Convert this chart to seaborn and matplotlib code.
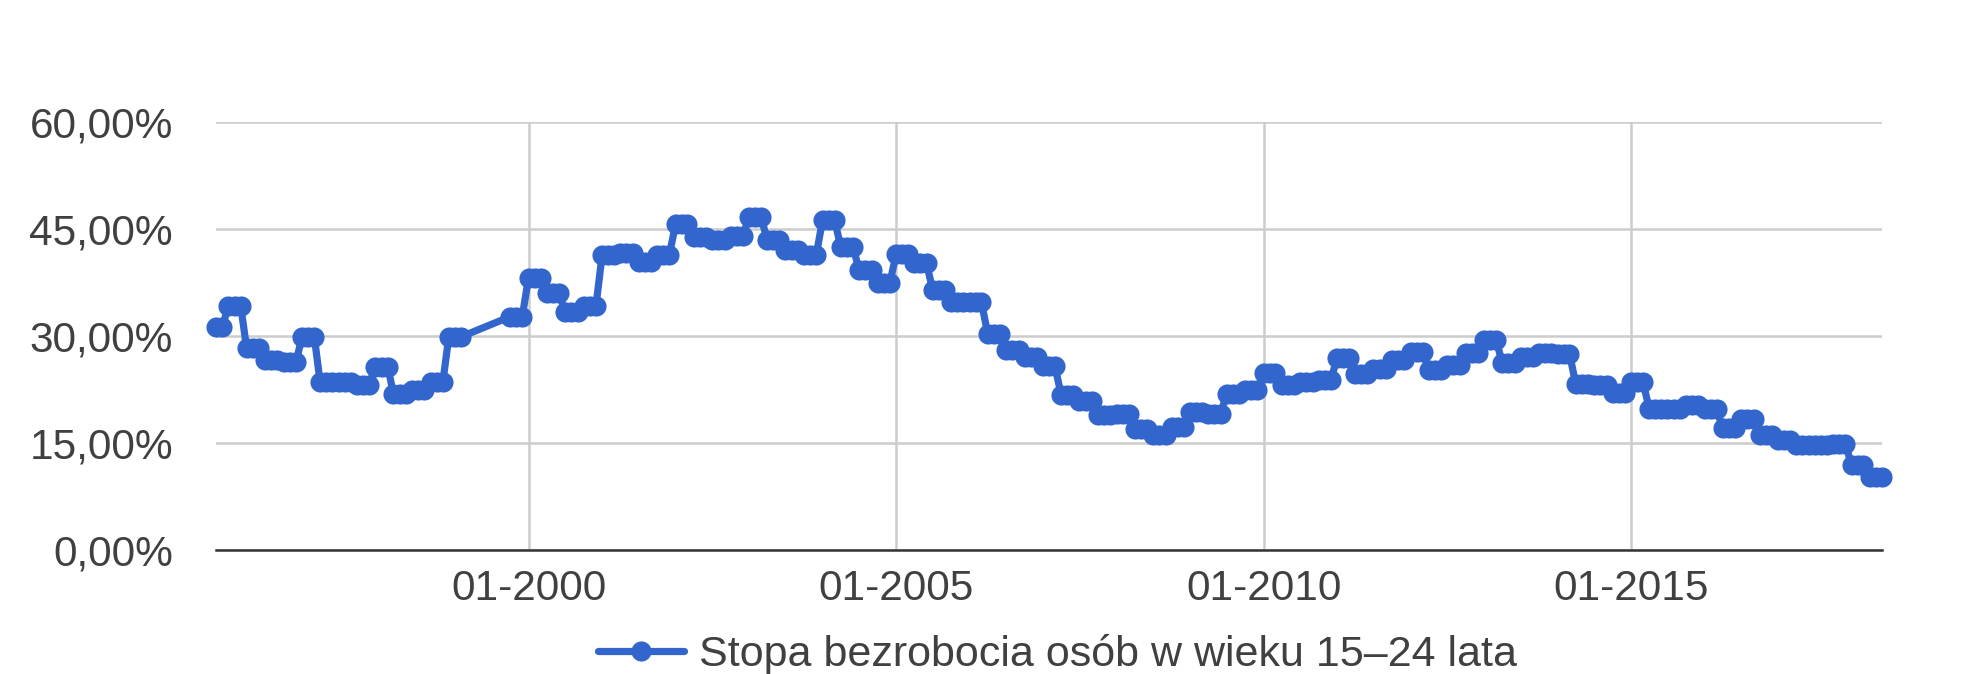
import numpy as np
import pandas as pd
import matplotlib
matplotlib.use("Agg")
import matplotlib.pyplot as plt
import matplotlib.dates as mdates
from matplotlib.ticker import FuncFormatter
import seaborn as sns

# ---------------- data ----------------
series_name = "Stopa bezrobocia osób w wieku 15–24 lata"

# early survey rounds (Dec–Feb, Mar–May, ... quarters), before the break in 1999
early_starts = ["1995-10", "1995-12", "1996-03", "1996-06", "1996-09", "1996-12",
                "1997-03", "1997-06", "1997-09", "1997-12", "1998-03", "1998-06",
                "1998-09", "1998-12"]
early_values = [31.2, 34.2, 28.3, 26.6, 26.3, 29.8,
                23.6, 23.6, 23.2, 25.7, 21.8, 22.5,
                23.5, 29.9]

# calendar quarters from 1999 Q4 to 2018 Q2
quarter_first = "1999-10"
quarterly_values = [
    32.7,                      # 1999 Q4
    38.2, 36.0, 33.4, 34.2,    # 2000
    41.4, 41.7, 40.4, 41.4,    # 2001
    45.7, 43.9, 43.5, 44.0,    # 2002
    46.7, 43.5, 42.1, 41.4,    # 2003
    46.2, 42.5, 39.2, 37.5,    # 2004
    41.5, 40.2, 36.5, 34.8,    # 2005
    34.7, 30.3, 28.0, 27.1,    # 2006
    25.8, 21.7, 20.9, 18.9,    # 2007
    19.1, 17.0, 16.1, 17.2,    # 2008
    19.4, 19.1, 21.8, 22.4,    # 2009
    24.8, 23.1, 23.6, 23.8,    # 2010
    26.9, 24.7, 25.4, 26.6,    # 2011
    27.8, 25.2, 25.9, 27.6,    # 2012
    29.5, 26.2, 27.1, 27.6,    # 2013
    27.5, 23.3, 23.2, 22.0,    # 2014
    23.6, 19.8, 19.8, 20.3,    # 2015
    19.7, 17.1, 18.3, 16.1,    # 2016
    15.4, 14.7, 14.7, 14.9,    # 2017
    11.9, 10.2,                # 2018
]

x_tick_dates = ["2000-01-01", "2005-01-01", "2010-01-01", "2015-01-01"]
y_ticks = [0, 15, 30, 45, 60]

# ---------------- expand survey periods to monthly points ----------------
seg_starts = list(pd.to_datetime(early_starts)) + list(
    pd.date_range(quarter_first, periods=len(quarterly_values), freq="QS"))
seg_values = early_values + quarterly_values

dates, values = [], []
for i, (s, v) in enumerate(zip(seg_starts, seg_values)):
    if i + 1 < len(seg_starts):
        nxt = seg_starts[i + 1]
        n = min(3, (nxt.year - s.year) * 12 + nxt.month - s.month)
    else:
        n = 3
    for m in range(n):
        dates.append(s + pd.DateOffset(months=m))
        values.append(v)
df = pd.DataFrame({"data": dates, "wartosc": values})

# ---------------- plot ----------------
sns.set_theme(style="white")
plt.rcParams["font.family"] = ["Liberation Sans", "DejaVu Sans"]

W, H = 1964, 674
fig = plt.figure(figsize=(W / 100, H / 100), dpi=100)
ax = fig.add_axes([216 / W, 1 - 550 / H, (1882 - 216) / W, (550 - 122) / H])

blue = "#3366CC"
text_col = "#404040"

sns.lineplot(data=df, x="data", y="wartosc", ax=ax, color=blue, linewidth=5.2,
             marker="o", markersize=14.5, markeredgewidth=0, label=series_name,
             clip_on=False, zorder=5)

ax.set_xlim(df["data"].min(), df["data"].max())
ax.set_ylim(0, 60)
ax.set_yticks(y_ticks)
ax.yaxis.set_major_formatter(FuncFormatter(lambda v, p: f"{v:.2f}".replace(".", ",") + "%"))
ax.set_xticks(pd.to_datetime(x_tick_dates))
ax.xaxis.set_major_formatter(mdates.DateFormatter("%m-%Y"))

ax.grid(True, color="#cccccc", linewidth=1.8)
ax.set_axisbelow(True)
for side in ["top", "right", "left"]:
    ax.spines[side].set_visible(False)
ax.spines["bottom"].set_color("#333333")
ax.spines["bottom"].set_linewidth(1.8)
ax.spines["bottom"].set_zorder(3)

ax.tick_params(axis="y", length=0, pad=31, labelsize=30.5, labelcolor=text_col)
ax.tick_params(axis="x", length=0, pad=14, labelsize=30.5, labelcolor=text_col)
ax.set_xlabel("")
ax.set_ylabel("")

leg = ax.legend(loc="center", bbox_to_anchor=(0.505, -0.245), frameon=False,
                fontsize=31, handlelength=2.0, handletextpad=0.35,
                labelcolor=text_col)

fig.savefig("out.png", dpi=100, facecolor="white")
